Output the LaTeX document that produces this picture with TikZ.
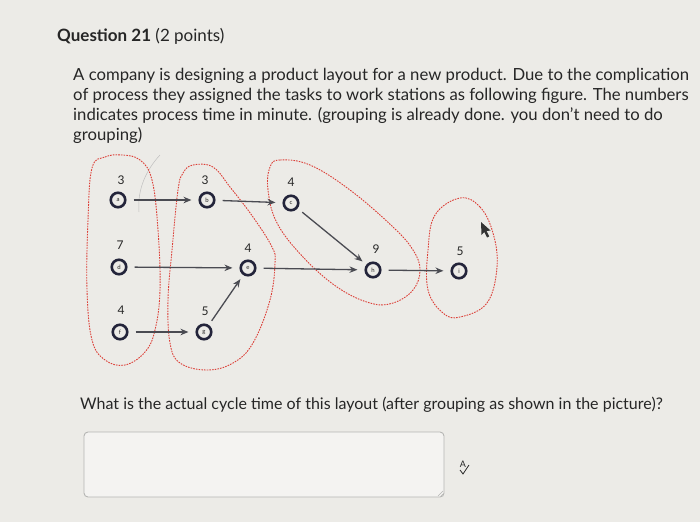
\documentclass[tikz,border=0pt]{standalone}
\usepackage{fontspec}
\setmainfont{Lato}
\usetikzlibrary{arrows.meta}
\definecolor{bg}{HTML}{ECEBE7}
\definecolor{txt}{HTML}{262626}
\definecolor{grp}{HTML}{DC4038}
\definecolor{ring}{HTML}{23243A}
\definecolor{arr}{HTML}{4A4B52}
\definecolor{boxline}{HTML}{B5B5B3}
\begin{document}
\begin{tikzpicture}[x=1pt,y=-1pt,
 task/.style={circle,draw=ring,line width=2.6pt,minimum size=14.5pt,inner sep=0pt,font=\fontsize{6}{6}\selectfont,text=txt},
 tlabel/.style={font=\fontsize{12}{12}\selectfont,text=txt,inner sep=0pt},
 flow/.style={draw=arr,line width=1.3pt,-{Stealth[length=8pt,width=6.5pt]},shorten <=7pt,shorten >=7pt},
 group/.style={draw=grp,line width=0.9pt,dash pattern=on 1.6pt off 1.1pt},
 body/.style={anchor=base west,inner sep=0pt,text=txt,font=\fontsize{16.7}{20}\selectfont}
]
\useasboundingbox (0,0) rectangle (700,522);
\fill[bg] (0,0) rectangle (700,522);

% texts
\node[body,font=\fontsize{17}{20}\selectfont] (title) at (57,41) {\textbf{Question 21} (2 points)};
\node[body] (l1) at (73,80) {A company is designing a product layout for a new product. Due to the complication};
\node[body] (l2) at (73,100) {of process they assigned the tasks to work stations as following figure. The numbers};
\node[body] (l3) at (73,120) {indicates process time in minute. (grouping is already done. you don't need to do};
\node[body] (l4) at (73,140) {grouping)};
\node[body,font=\fontsize{16}{20}\selectfont] (q) at (80,409) {What is the actual cycle time of this layout (after grouping as shown in the picture)?};

% faint arc
\draw[black!25,line width=0.5pt] (160,155) .. controls (146,170) and (137,190) .. (139,212);

% groups
\draw[group] plot[smooth cycle,tension=0.65] coordinates {(92,168) (105,157) (122,155) (140,160) (152,180) (158,230) (160,290) (155,330) (145,352) (125,365) (105,360) (92,340) (87,290) (88,220)};
\draw[group] plot[smooth cycle,tension=0.65] coordinates {(183,173) (193,165) (213,167) (230,187) (253,217) (272,247) (275,263) (270,300) (253,343) (233,363) (207,370) (180,363) (170,343) (168,300) (172,250) (178,190)};
\draw[group] plot[smooth cycle,tension=0.65] coordinates {(270,167) (280,160) (310,165) (350,190) (393,227) (413,250) (420,270) (413,290) (393,303) (370,303) (337,287) (303,257) (277,223) (268,190)};
\draw[group] plot[smooth cycle,tension=0.65] coordinates {(460,198) (480,207) (493,233) (497,267) (487,303) (460,317) (443,313) (428,290) (428,250) (435,215)};

% tasks
\node[task] (a) at (118,200) {a};
\node[task] (b) at (207,200) {b};
\node[task] (c) at (291,203) {c};
\node[task] (d) at (119,267) {d};
\node[task] (e) at (248,268) {e};
\node[task] (h) at (373,270) {h};
\node[task] (i) at (459,271) {i};
\node[task] (f) at (120,332) {f};
\node[task] (g) at (204,332) {g};

\node[tlabel] (ta) at (121,180) {3};
\node[tlabel] (tb) at (205,180) {3};
\node[tlabel] (tc) at (291,182) {4};
\node[tlabel] (td) at (120,245) {7};
\node[tlabel] (te) at (248,248) {4};
\node[tlabel] (th) at (376,249) {9};
\node[tlabel] (ti) at (460,251) {5};
\node[tlabel] (tf) at (121,310) {4};
\node[tlabel] (tg) at (205,311) {5};

% flows
\draw[flow] (a) -- (b);
\draw[flow] (b) -- (c);
\draw[flow] (d) -- (e);
\draw[flow] (e) -- (h);
\draw[flow,shorten <=6pt,shorten >=5pt] (c) -- (h);
\draw[flow] (h) -- (i);
\draw[flow] (f) -- (g);
\draw[flow,shorten <=5pt,shorten >=5pt] (g) -- (e);

% cursor
\fill[black!80] (481,222) -- (481.5,235) -- (484.3,232) -- (487,237.5) -- (489.2,236.4) -- (486.6,231) -- (490.5,230.5) -- cycle;

% answer box
\draw[boxline,fill=bg!60!white,line width=0.9pt,rounded corners=4pt] (84,432) rectangle (444,497);
\node[inner sep=0pt,text=txt,font=\fontsize{9}{9}\selectfont] (spell) at (463,464) {A};
\draw[txt,line width=0.8pt] (460,470) -- (463,474) -- (469,465);
\draw[boxline,line width=0.6pt] (438,496) -- (443,491) (441,496) -- (443,494);
\end{tikzpicture}
\end{document}
